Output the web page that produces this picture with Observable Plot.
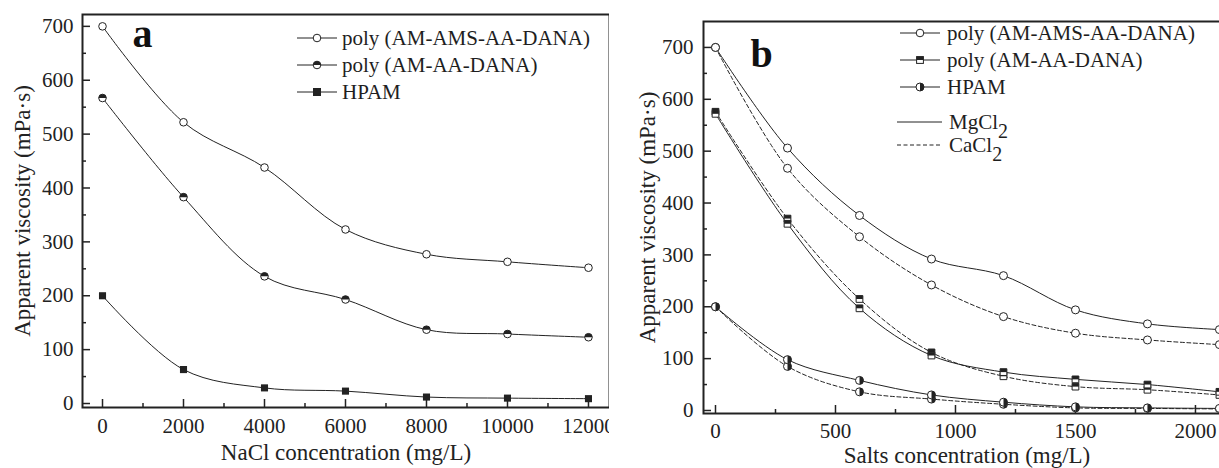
<!DOCTYPE html>
<html><head><meta charset="utf-8">
<script src="https://cdn.jsdelivr.net/npm/d3@7"></script>
<script src="https://cdn.jsdelivr.net/npm/@observablehq/plot@0.6"></script>
<style>
html,body{margin:0;padding:0;background:#fff;}
body{width:1219px;height:468px;position:relative;overflow:hidden;font-family:"Liberation Serif","Times New Roman",serif;color:#1e1e1e;}
#pa{position:absolute;left:0;top:0;width:609px;height:468px;overflow:hidden;}
#pb{position:absolute;left:612px;top:0;width:607px;height:468px;overflow:hidden;}
.row{position:absolute;height:24px;display:flex;align-items:center;font-size:21px;white-space:nowrap;line-height:24px;}
.row svg{display:block;}
.row span{margin-left:5px;}
#legb .row span{margin-left:7px;}
sub{font-size:0.95em;vertical-align:-0.45em;line-height:0;}
</style></head>
<body>
<div id="pa"></div><div id="pb"></div>
<div id="lega"></div><div id="legb"></div>
<script>
// ---------- data ----------
const naclConc = [0, 2000, 4000, 6000, 8000, 10000, 12000];
const naclAMS  = [700, 522, 438, 323, 277, 263, 252];
const naclAA   = [567, 383, 236, 193, 137, 129, 123];
const naclHPAM = [200, 63, 29, 23, 12, 10, 9];

const saltConc = [0, 300, 600, 900, 1200, 1500, 1800, 2100];
const mgAMS  = [700, 506, 376, 292, 260, 194, 167, 156];
const caAMS  = [700, 467, 335, 242, 181, 149, 136, 127];
const mgAA   = [572, 360, 197, 106, 74, 60, 50, 36];
const caAA   = [576, 370, 215, 112, 66, 46, 40, 30];
const mgHPAM = [200, 98, 58, 30, 16, 7, 5, 4];
const caHPAM = [200, 85, 36, 22, 12, 5, 4, 3];

const seriesNames = ["poly (AM-AMS-AA-DANA)", "poly (AM-AA-DANA)", "HPAM"];
const saltNames = ["MgCl", "CaCl"];

const xMajorA = [0, 2000, 4000, 6000, 8000, 10000, 12000];
const xMinorA = [1000, 3000, 5000, 7000, 9000, 11000];
const xMajorB = [0, 500, 1000, 1500, 2000];
const xMinorB = [250, 750, 1250, 1750];
const yMajor = [0, 100, 200, 300, 400, 500, 600, 700];
const yMinor = [50, 150, 250, 350, 450, 550, 650];

// ---------- symbols ----------
const halfTopCircle = {draw(c, size){const r=Math.sqrt(size/Math.PI); c.moveTo(-r,0); c.arc(0,0,r,Math.PI,2*Math.PI); c.closePath();}};
const halfRightCircle = {draw(c, size){const r=Math.sqrt(size/Math.PI); c.moveTo(0,-r); c.arc(0,0,r,-Math.PI/2,Math.PI/2); c.closePath();}};
const halfTopSquare = {draw(c, size){const s=Math.sqrt(size)/2; c.rect(-s,-s,2*s,s);}};

const INK = "#222";
const pts = (xs, ys) => xs.map((x, i) => ({x, y: ys[i]}));
const line = (d, dash) => Plot.line(d, {x: "x", y: "y", curve: "catmull-rom", stroke: INK, strokeWidth: 1, strokeDasharray: dash});
const openDot = (d, symbol, r) => Plot.dot(d, {x: "x", y: "y", symbol, r, fill: "white", stroke: INK, strokeWidth: 1});
const fillDot = (d, symbol, r) => Plot.dot(d, {x: "x", y: "y", symbol, r, fill: INK, stroke: "none"});
const fmt = d3.format("d");

function frameMarks(o) {
  return [
    Plot.frame({stroke: INK, strokeWidth: 2}),
    Plot.tickX(o.xMajor, {x: d => d, stroke: INK, strokeWidth: 1.5, insetTop: o.ph - 8}),
    Plot.tickX(o.xMinor, {x: d => d, stroke: INK, strokeWidth: 1.5, insetTop: o.ph - 4}),
    Plot.tickY(yMajor, {y: d => d, stroke: INK, strokeWidth: 1.5, insetRight: o.pw - 8}),
    Plot.tickY(yMinor, {y: d => d, stroke: INK, strokeWidth: 1.5, insetRight: o.pw - 4}),
    Plot.axisX({ticks: o.xMajor, tickSize: 0, tickPadding: o.xpad, tickFormat: fmt, fontSize: 21, label: null, fill: INK}),
    Plot.axisY({ticks: yMajor, tickSize: 0, tickPadding: o.ypad, tickFormat: fmt, fontSize: 21, label: null, fill: INK}),
    Plot.text([o.xlabel], {frameAnchor: "bottom", dy: o.xlabDy, lineAnchor: "top", textAnchor: "middle", fontSize: 23, fill: INK}),
    Plot.text(["Apparent viscosity (mPa\u00B7s)"], {frameAnchor: "left", dx: o.ylabDx, rotate: -90, textAnchor: "middle", lineAnchor: "middle", fontSize: 23, fill: INK}),
    Plot.text([o.tag], {frameAnchor: "top-left", dx: o.tagDx, dy: o.tagDy, textAnchor: "start", lineAnchor: "middle", fontSize: 40, fontWeight: "bold", fill: "#111"})
  ];
}

// ---------- panel a ----------
const A1 = pts(naclConc, naclAMS), A2 = pts(naclConc, naclAA), A3 = pts(naclConc, naclHPAM);
const plotA = Plot.plot({
  width: 611, height: 468, marginLeft: 82, marginRight: 2, marginTop: 14, marginBottom: 61,
  style: {fontFamily: "Liberation Serif", background: "white", maxWidth: "none"},
  x: {domain: [-494, 12519]}, y: {domain: [-7.4, 722]},
  marks: [
    ...frameMarks({xMajor: xMajorA, xMinor: xMinorA, ph: 393, pw: 527, xpad: 11, ypad: 9,
      xlabel: "NaCl concentration (mg/L)", xlabDy: 36, ylabDx: -60, tag: "a", tagDx: 50, tagDy: 20}),
    line(A1), line(A2), line(A3),
    openDot(A1, "circle", 3.8),
    openDot(A2, "circle", 3.8), fillDot(A2, halfTopCircle, 3.8),
    fillDot(A3, "square", 4)
  ]
});
document.getElementById("pa").appendChild(plotA);

// ---------- panel b ----------
const B1m = pts(saltConc, mgAMS), B1c = pts(saltConc, caAMS);
const B2m = pts(saltConc, mgAA),  B2c = pts(saltConc, caAA);
const B3m = pts(saltConc, mgHPAM), B3c = pts(saltConc, caHPAM);
const DASH = "4,2.5";
const plotB = Plot.plot({
  width: 620, height: 468, marginLeft: 91, marginRight: 2, marginTop: 21, marginBottom: 55,
  style: {fontFamily: "Liberation Serif", background: "white", maxWidth: "none"},
  x: {domain: [-50, 2146]}, y: {domain: [-5.8, 750]},
  marks: [
    ...frameMarks({xMajor: xMajorB, xMinor: xMinorB, ph: 392, pw: 527, xpad: 10, ypad: 10,
      xlabel: "Salts concentration (mg/L)", xlabDy: 33, ylabDx: -56, tag: "b", tagDx: 47, tagDy: 33}),
    line(B1m), line(B1c, DASH), line(B2m), line(B2c, DASH), line(B3m), line(B3c, DASH),
    openDot(B1m, "circle", 4), openDot(B1c, "circle", 4),
    openDot(B2c, "square", 3.8), fillDot(B2c, halfTopSquare, 3.8),
    openDot(B2m, "square", 3.8), fillDot(B2m, halfTopSquare, 3.8),
    openDot(B3c, "circle", 4), fillDot(B3c, halfRightCircle, 4),
    openDot(B3m, "circle", 4), fillDot(B3m, halfRightCircle, 4)
  ]
});
document.getElementById("pb").appendChild(plotB);

// ---------- legends (HTML overlay) ----------
function icon(w, marker, dash) {
  const y = 12, m = w / 2;
  let mk = "";
  if (marker === "open") mk = `<circle cx="${m}" cy="${y}" r="3.8" fill="white" stroke="${INK}"/>`;
  if (marker === "halfTop") mk = `<circle cx="${m}" cy="${y}" r="3.8" fill="white" stroke="${INK}"/><path d="M${m-3.8},${y}A3.8,3.8 0 0 1 ${m+3.8},${y}Z" fill="${INK}"/>`;
  if (marker === "square") mk = `<rect x="${m-4}" y="${y-4}" width="8" height="8" fill="${INK}"/>`;
  if (marker === "halfSq") mk = `<rect x="${m-3.4}" y="${y-3.4}" width="6.8" height="6.8" fill="white" stroke="${INK}"/><rect x="${m-3.4}" y="${y-3.4}" width="6.8" height="3.4" fill="${INK}"/>`;
  if (marker === "halfRight") mk = `<circle cx="${m}" cy="${y}" r="4" fill="white" stroke="${INK}"/><path d="M${m},${y-4}A4,4 0 0 1 ${m},${y+4}Z" fill="${INK}"/>`;
  return `<svg width="${w}" height="24"><line x1="0" x2="${w}" y1="${y}" y2="${y}" stroke="${INK}" stroke-width="1" ${dash ? `stroke-dasharray="${dash}"` : ""}/>${mk}</svg>`;
}
function row(parent, left, cy, svg, html) {
  const d = document.createElement("div");
  d.className = "row";
  d.style.left = left + "px";
  d.style.top = (cy - 12) + "px";
  d.innerHTML = svg + `<span>${html}</span>`;
  document.getElementById(parent).appendChild(d);
}
row("lega", 297, 38, icon(40, "open"), seriesNames[0]);
row("lega", 297, 65, icon(40, "halfTop"), seriesNames[1]);
row("lega", 297, 92, icon(40, "square"), seriesNames[2]);

row("legb", 900, 33, icon(40, "open"), seriesNames[0]);
row("legb", 900, 60, icon(40, "halfSq"), seriesNames[1]);
row("legb", 900, 87, icon(40, "halfRight"), seriesNames[2]);
row("legb", 897, 122, icon(45, null), saltNames[0] + "<sub>2</sub>");
row("legb", 897, 145, icon(45, null, DASH), saltNames[1] + "<sub>2</sub>");
</script>
</body></html>
